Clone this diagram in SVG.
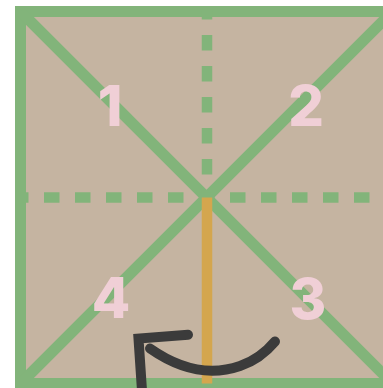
<svg xmlns="http://www.w3.org/2000/svg" width="383" height="388" viewBox="0 0 383 388">
<style>
.g{stroke:#82B47A;stroke-width:11;fill:none}
.d{stroke:#82B47A;stroke-width:10.5;fill:none;stroke-dasharray:15.5 15.5;stroke-dashoffset:7.5}
.n{font-family:Inter,"Liberation Sans",sans-serif;font-weight:800;font-size:56px;fill:#F0CFD6;text-anchor:middle}
.a{stroke:#3B3B3B;stroke-width:10;fill:none;stroke-linecap:round}
</style>
<rect width="383" height="388" fill="#FFFFFF"/>
<g id="square">
<rect x="20.5" y="11.5" width="372" height="372" style="fill:#C5B4A1;stroke:#82B47A;stroke-width:11"/>
<line x1="20.5" y1="11.5" x2="392.5" y2="383.5" class="g"/>
<line x1="392.5" y1="11.5" x2="20.5" y2="383.5" class="g"/>
</g>
<g id="folds">
<line x1="207" y1="11.5" x2="207" y2="197.5" class="d"/>
<line x1="20.5" y1="197.5" x2="392.5" y2="197.5" class="d"/>
<line x1="207" y1="197.5" x2="207" y2="383.5" stroke="#D4A64E" stroke-width="10.5"/>
</g>
<g id="labels">
<text x="110" y="126" class="n">1</text>
<text x="306" y="126" class="n">2</text>
<text x="308" y="319" class="n">3</text>
<text x="111" y="318" class="n">4</text>
</g>
<g id="arrow">
<path d="M150 348.5 C175 366 205 378 240 366 C255 361 267 351 275 341.5" class="a"/>
<path d="M188 334.8 L138.5 338.5 L142.5 398" class="a" stroke-linejoin="miter"/>
</g>
</svg>
